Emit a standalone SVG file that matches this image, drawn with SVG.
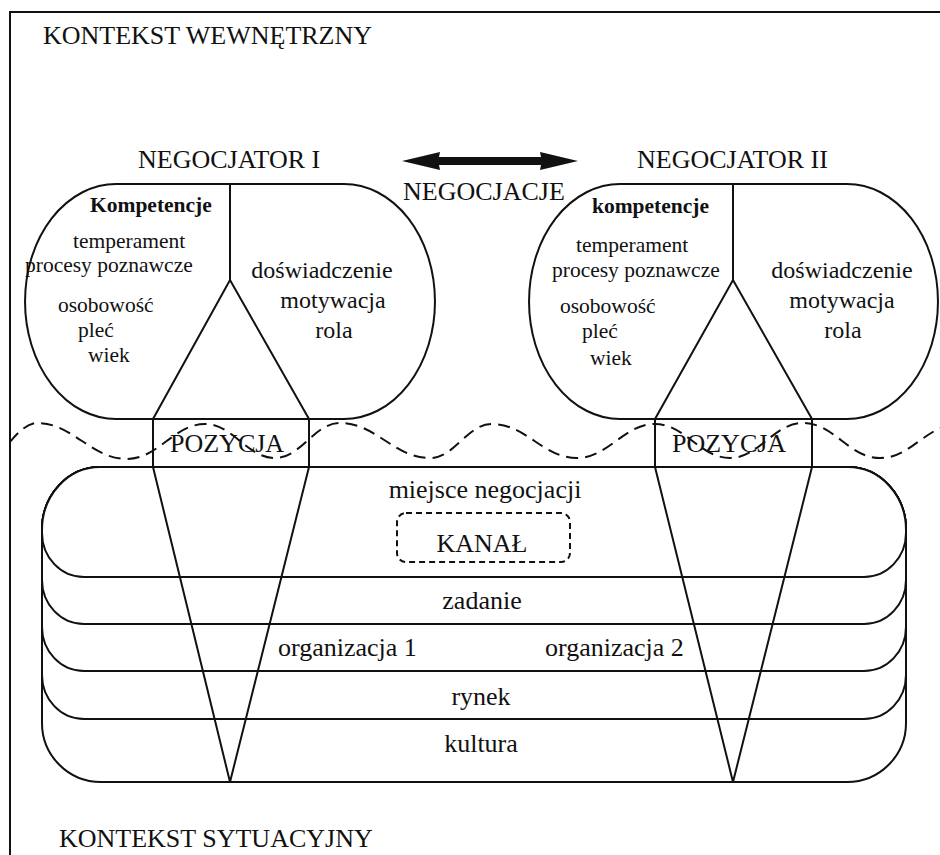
<svg xmlns="http://www.w3.org/2000/svg" width="940" height="855" viewBox="0 0 940 855">
<style>
.t{font-family:"Liberation Serif","Times New Roman",serif;fill:#111}
.big{font-size:26px}
.mid{font-size:24px}
.sm{font-size:21.5px}
.b{font-weight:bold}
.s{fill:none;stroke:#111;stroke-width:2}
.layer{fill:#fff;stroke:#111;stroke-width:2}
.wave{fill:none;stroke:#111;stroke-width:2;stroke-dasharray:12 7}
.kanal{fill:none;stroke:#111;stroke-width:2;stroke-dasharray:6 4}
</style>
<rect width="940" height="855" fill="#fff"/>
<g id="frame">
  <rect x="10" y="12" width="950" height="870" fill="none" stroke="#111" stroke-width="2"/>
  <text class="t big" x="43" y="44">KONTEKST WEWNĘTRZNY</text>
  <text class="t big" x="59" y="847">KONTEKST SYTUACYJNY</text>
</g>
<g id="boundary">
  <path class="wave" d="M10,442 C18,432 28,423 37,423 C73,423 91,459 127,459 C158,459 174,424 205,424 C233,424 247,458 275,458 C301,458 314,423 340,423 C376,423 394,458 430,458 C455,458 467,424 492,424 C526,424 543,458 577,458 C608,458 624,424 655,424 C685,424 700,458 730,458 C759,458 774,423 803,423 C834,423 849,458 880,458 C904,458 916,440 940,428"/>
</g>
<g id="negocjator1">
  <text class="t big" x="138" y="168">NEGOCJATOR I</text>
  <path class="s" d="M116,184 H344 A91 117.5 0 0 1 344,419 H116 A91 117.5 0 0 1 116,184 Z"/>
  <path class="s" d="M230,184 V280 M153,419 L230,280 L309,419"/>
  <text class="t sm b" x="90" y="212">Kompetencje</text>
  <text class="t sm" x="73" y="248">temperament</text>
  <text class="t sm" x="25" y="272">procesy poznawcze</text>
  <text class="t sm" x="58" y="312">osobowość</text>
  <text class="t sm" x="78" y="337">pleć</text>
  <text class="t sm" x="88" y="362">wiek</text>
  <text class="t mid" x="322" y="278" text-anchor="middle">doświadczenie</text>
  <text class="t mid" x="333" y="308" text-anchor="middle">motywacja</text>
  <text class="t mid" x="334" y="338" text-anchor="middle">rola</text>
</g>
<g id="negocjator2">
  <text class="t big" x="637" y="168">NEGOCJATOR II</text>
  <path class="s" d="M620,184 H847 A91 117.5 0 0 1 847,419 H620 A91 117.5 0 0 1 620,184 Z"/>
  <path class="s" d="M733,184 V280 M655,419 L733,280 L812,419"/>
  <text class="t sm b" x="592" y="213">kompetencje</text>
  <text class="t sm" x="576" y="252">temperament</text>
  <text class="t sm" x="552" y="277">procesy poznawcze</text>
  <text class="t sm" x="560" y="313">osobowość</text>
  <text class="t sm" x="582" y="338">pleć</text>
  <text class="t sm" x="590" y="365">wiek</text>
  <text class="t mid" x="842" y="278" text-anchor="middle">doświadczenie</text>
  <text class="t mid" x="842" y="308" text-anchor="middle">motywacja</text>
  <text class="t mid" x="843" y="338" text-anchor="middle">rola</text>
</g>
<g id="negocjacje">
  <polygon fill="#111" points="402,161 440,152 439,157 541,157 540,152 578,161 540,170 541,165 439,165 440,170"/>
  <text class="t big" x="403" y="200">NEGOCJACJE</text>
</g>
<g id="kontekst-sytuacyjny">
  <path class="layer" d="M100,467 H848 A58 63 0 0 1 906,530 V723 A59 59 0 0 1 847,782 H101 A59 59 0 0 1 42,723 V530 A58 63 0 0 1 100,467 Z"/>
  <path class="layer" d="M100,467 H848 A58 63 0 0 1 906,530 V675 A42 44 0 0 1 864,719 H84 A42 44 0 0 1 42,675 V530 A58 63 0 0 1 100,467 Z"/>
  <path class="layer" d="M100,467 H848 A58 63 0 0 1 906,530 V627 A42 44 0 0 1 864,671 H84 A42 44 0 0 1 42,627 V530 A58 63 0 0 1 100,467 Z"/>
  <path class="layer" d="M100,467 H848 A58 63 0 0 1 906,530 V580 A42 44 0 0 1 864,624 H84 A42 44 0 0 1 42,580 V530 A58 63 0 0 1 100,467 Z"/>
  <path class="layer" d="M100,467 H848 A58 63 0 0 1 906,530 V533 A42 44 0 0 1 864,577 H84 A42 44 0 0 1 42,533 V530 A58 63 0 0 1 100,467 Z"/>
  <text class="t big" x="485" y="498" text-anchor="middle">miejsce negocjacji</text>
  <text class="t big" x="482" y="609" text-anchor="middle">zadanie</text>
  <text class="t big" x="278" y="656">organizacja 1</text>
  <text class="t big" x="545" y="656">organizacja 2</text>
  <text class="t big" x="481" y="705" text-anchor="middle">rynek</text>
  <text class="t big" x="481" y="752" text-anchor="middle">kultura</text>
</g>
<g id="kanal">
  <rect class="kanal" x="397" y="513" width="173" height="49" rx="9"/>
  <text class="t big" x="482" y="552" text-anchor="middle">KANAŁ</text>
</g>
<g id="pozycja1">
  <rect class="s" x="153" y="419" width="156" height="48"/>
  <text class="t big" x="170" y="452">POZYCJA</text>
</g>
<g id="pozycja2">
  <rect class="s" x="655" y="419" width="157" height="48"/>
  <text class="t big" x="672" y="452">POZYCJA</text>
</g>
<g id="connectors">
  <path class="s" d="M153,467 L230,782 L309,467"/>
  <path class="s" d="M655,467 L733,782 L812,467"/>
</g>
</svg>
